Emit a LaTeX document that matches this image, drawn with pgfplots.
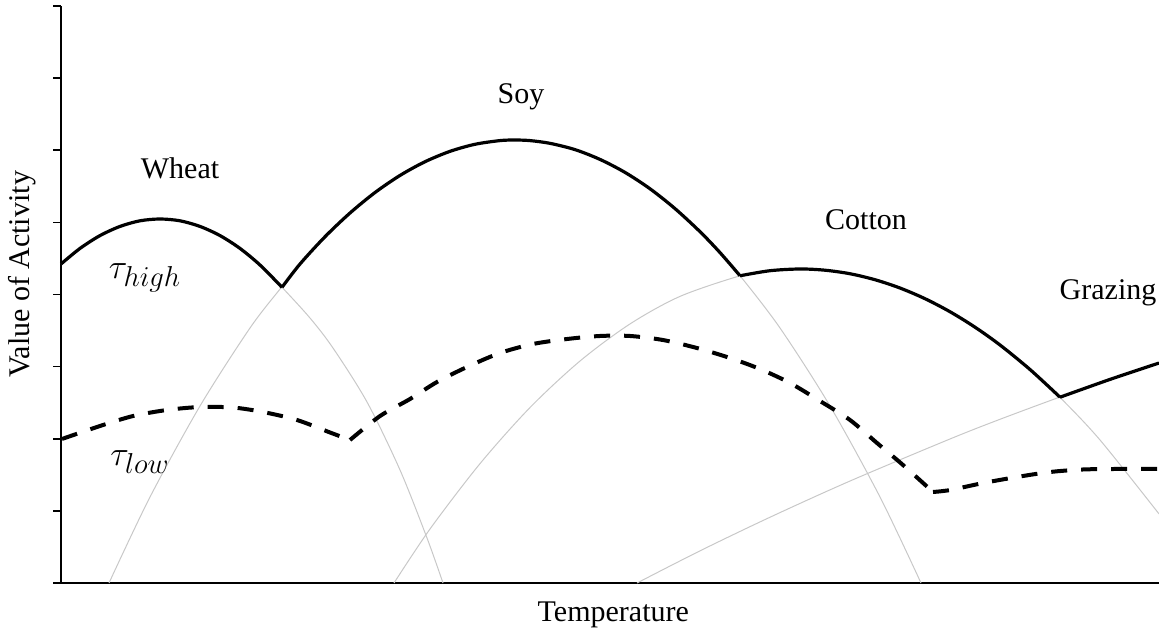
\documentclass[border=0pt]{standalone}
\usepackage{pgfplots}
\pgfplotsset{compat=1.18}
\usepackage{fontspec}
\setmainfont{Liberation Serif}
\definecolor{lg}{RGB}{200,200,200}
\begin{document}
\fontsize{15pt}{18pt}\selectfont
\begin{tikzpicture}
\path[use as bounding box] (-30.5pt,-27pt) rectangle (549pt,291.5pt);
\begin{axis}[
  at={(0pt,0pt)}, anchor=south west,
  scale only axis, width=549pt, height=288.5pt,
  xmin=61, xmax=1159, ymin=0, ymax=8,
  axis x line*=bottom, axis y line*=left,
  axis line style={line width=0.8pt, -},
  xtick=\empty, ytick={0,1,2,3,4,5,6,7,8}, yticklabels={},
  tick align=outside, major tick length=4pt,
  tick style={line width=0.8pt, black},
  xlabel={Temperature}, ylabel={Value of Activity},
  xlabel style={at={(axis description cs:0.503,-0.0555)}, anchor=center},
  ylabel style={at={(axis description cs:-0.0355,0.535)}, anchor=center},
  clip=false,
  every axis plot/.append style={line join=round},
]
% grey full curves
\addplot[lg, line width=0.5pt, smooth] coordinates {
(61,4.423) (80,4.639) (100,4.817) (120,4.944) (140,5.022) (160,5.047) (180,5.022) (200,4.944) (220,4.817) (240,4.639) (260,4.409) (282,4.10) (310,3.674) (333,3.258) (367,2.510) (400,1.567) (427,0.624) (443,0)};
\addplot[lg, line width=0.5pt, smooth] coordinates {
(109,0) (150,1.192) (200,2.454) (250,3.536) (282,4.110) (300,4.423) (325,4.801) (350,5.130) (375,5.414) (400,5.651) (425,5.841) (450,5.985) (475,6.083) (500,6.134) (515,6.142) (530,6.134) (550,6.096) (575,6.009) (600,5.873) (625,5.693) (650,5.466) (675,5.191) (700,4.871) (720,4.581) (740,4.261) (780,3.536) (830,2.454) (880,1.192) (921,0)};
\addplot[lg, line width=0.5pt, smooth] coordinates {
(394,0) (430,0.749) (480,1.655) (530,2.433) (580,3.078) (630,3.592) (680,3.974) (740,4.259) (770,4.330) (800,4.354) (825,4.337) (850,4.288) (875,4.205) (900,4.090) (925,3.942) (950,3.761) (975,3.547) (1000,3.300) (1030,2.960) (1060,2.573) (1100,1.983) (1159,0.958)};
\addplot[lg, line width=0.5pt, smooth] coordinates {
(637,0) (700,0.446) (770,0.912) (850,1.414) (950,1.997) (1000,2.270) (1060,2.579) (1110,2.823) (1159,3.050)};
% tau low (dashed)
\addplot[black, line width=2pt, dash pattern=on 8pt off 7pt, smooth] coordinates {
(62,1.997) (100,2.177) (133,2.315) (167,2.399) (200,2.440) (233,2.433) (263,2.371) (297,2.260) (330,2.087) (350,1.983)};
\addplot[black, line width=2pt, dash pattern=on 8pt off 7pt, smooth] coordinates {
(350,1.983) (380,2.315) (410,2.551) (437,2.787) (467,2.995) (500,3.189) (533,3.314) (567,3.383) (600,3.425) (630,3.425) (663,3.369) (697,3.258) (730,3.120) (760,2.967) (790,2.773) (820,2.523) (850,2.260) (877,1.941) (903,1.636) (933,1.262)};
\addplot[black, line width=2pt, dash pattern=on 8pt off 7pt, smooth] coordinates {
(933,1.262) (950,1.289) (983,1.386) (1017,1.470) (1050,1.539) (1083,1.574) (1117,1.581) (1159,1.581)};
% tau high (solid envelope)
\addplot[black, line width=1.6pt, smooth] coordinates {
(61,4.423) (80,4.639) (100,4.817) (120,4.944) (140,5.022) (160,5.047) (180,5.022) (200,4.944) (220,4.817) (240,4.639) (260,4.409) (282,4.10)};
\addplot[black, line width=1.6pt, smooth] coordinates {
(282,4.10) (300,4.423) (325,4.801) (350,5.130) (375,5.414) (400,5.651) (425,5.841) (450,5.985) (475,6.083) (500,6.134) (515,6.142) (530,6.134) (550,6.096) (575,6.009) (600,5.873) (625,5.693) (650,5.466) (675,5.191) (700,4.871) (720,4.581) (740,4.26)};
\addplot[black, line width=1.6pt, smooth] coordinates {
(740,4.26) (770,4.330) (800,4.354) (825,4.337) (850,4.288) (875,4.205) (900,4.090) (925,3.942) (950,3.761) (975,3.547) (1000,3.300) (1030,2.960) (1060,2.576)};
\addplot[black, line width=1.6pt, smooth] coordinates {
(1060,2.576) (1110,2.823) (1159,3.050)};
% labels
\node at (axis cs:180,5.754) {Wheat};
\node at (axis cs:521,6.738) {Soy};
\node at (axis cs:866,5.033) {Cotton};
\node at (axis cs:1108,4.021) {Grazing};
\node at (axis cs:145,4.229) {\fontsize{19pt}{22pt}\selectfont$\tau_{high}$};
\node at (axis cs:140,1.678) {\fontsize{19pt}{22pt}\selectfont$\tau_{low}$};
\end{axis}
\end{tikzpicture}
\end{document}
